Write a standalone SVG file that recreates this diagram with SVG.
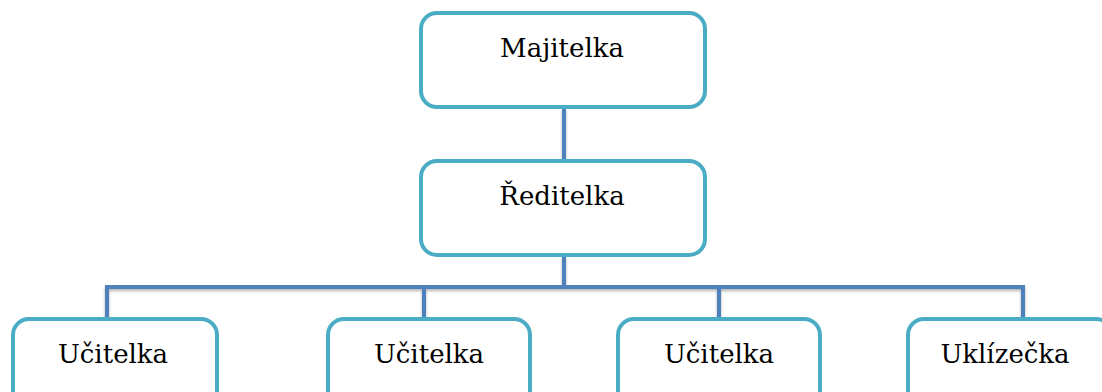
<svg xmlns="http://www.w3.org/2000/svg" width="1102" height="392" viewBox="0 0 1102 392">
<defs>
<style>
.box{fill:#fff;stroke:#4BACC6;stroke-width:4}
.lbl{font-family:'DejaVu Serif',serif;font-size:26px;fill:#000;text-anchor:middle}
.con{fill:none;stroke:#4F81BD;stroke-width:4}
</style>
<filter id="sh" x="-5%" y="-50%" width="110%" height="200%">
<feGaussianBlur in="SourceAlpha" stdDeviation="1.5"/>
<feOffset dx="0" dy="2" result="b"/>
<feComponentTransfer><feFuncA type="linear" slope="0.3"/></feComponentTransfer>
<feMerge><feMergeNode/><feMergeNode in="SourceGraphic"/></feMerge>
</filter>
</defs>
<rect width="1102" height="392" fill="#fff"/>
<g id="connectors" filter="url(#sh)">
<path class="con" d="M564 108 V160"/>
<path class="con" d="M564 256 V287"/>
<path class="con" d="M107 318 V287 H1023 V318"/>
<path class="con" d="M424 287 V318"/>
<path class="con" d="M719 287 V318"/>
</g>
<g id="majitelka">
<rect class="box" x="421" y="13" width="284" height="94" rx="16"/>
<text class="lbl" x="562" y="57">Majitelka</text>
</g>
<g id="reditelka">
<rect class="box" x="421" y="161" width="284" height="94" rx="16"/>
<text class="lbl" x="562" y="205">Ředitelka</text>
</g>
<g id="ucitelka1">
<rect class="box" x="13" y="319" width="204" height="94" rx="16"/>
<text class="lbl" x="113" y="363">Učitelka</text>
</g>
<g id="ucitelka2">
<rect class="box" x="328" y="319" width="202" height="94" rx="16"/>
<text class="lbl" x="429" y="363">Učitelka</text>
</g>
<g id="ucitelka3">
<rect class="box" x="618" y="319" width="202" height="94" rx="16"/>
<text class="lbl" x="719" y="363">Učitelka</text>
</g>
<g id="uklizecka">
<rect class="box" x="908" y="319" width="204" height="94" rx="16"/>
<text class="lbl" x="1005" y="363">Uklízečka</text>
</g>
</svg>
